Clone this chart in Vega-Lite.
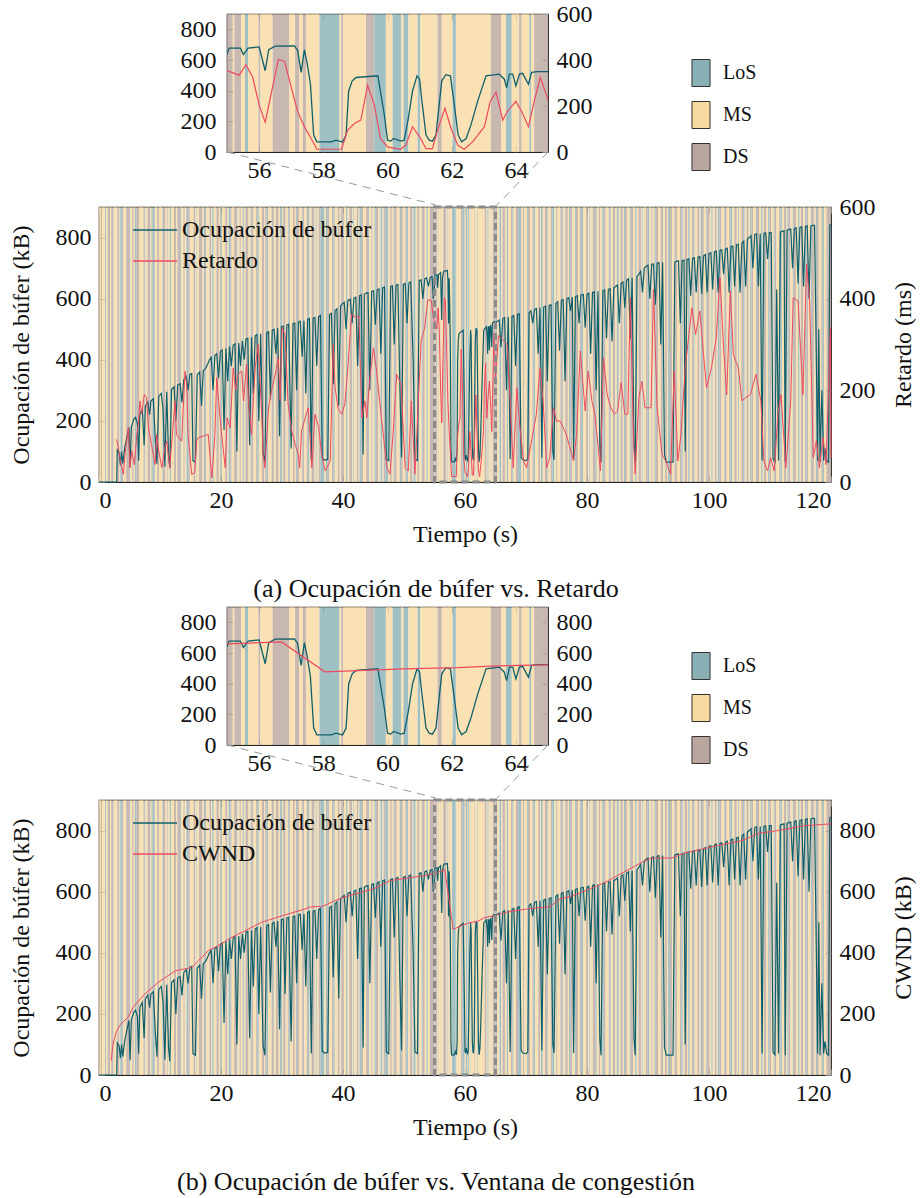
{
"$schema": "https://vega.github.io/schema/vega-lite/v6.json",
"background": "white",
"padding": {"left": 8, "top": 1, "right": 4, "bottom": 4},
"config": {
  "font": "Liberation Serif",
  "view": {"stroke": "#222", "strokeWidth": 1.2},
  "style": {"guide-label": {"font": "Liberation Serif"}, "guide-title": {"font": "Liberation Serif"}, "group-title": {"font": "Liberation Serif"}},
  "axis": {"labelFont": "Liberation Serif", "titleFont": "Liberation Serif", "labelFontSize": 24, "titleFontSize": 24, "titleFontWeight": "normal", "labelColor": "#111", "titleColor": "#111", "tickColor": "#888", "tickSize": -6, "tickWidth": 1, "domain": false, "grid": false},
  "legend": {"labelFont": "Liberation Serif", "labelColor": "#111", "labelLimit": 400},
  "title": {"font": "Liberation Serif", "fontWeight": "normal", "color": "#111"}
},
"datasets": {
"stripes": [
{"a":0,"b":0.3,"s":"MS"},{"a":0.3,"b":0.5,"s":"DS"},{"a":0.5,"b":1.0,"s":"MS"},{"a":1.0,"b":1.15,"s":"LoS"},{"a":1.15,"b":1.4,"s":"MS"},{"a":1.4,"b":1.8,"s":"DS"},{"a":1.8,"b":2.0,"s":"MS"},{"a":2.0,"b":2.3,"s":"DS"},{"a":2.3,"b":2.4,"s":"LoS"},{"a":2.4,"b":3.0,"s":"MS"},
{"a":3.0,"b":3.35,"s":"DS"},{"a":3.35,"b":3.5,"s":"MS"},{"a":3.5,"b":3.8,"s":"LoS"},{"a":3.8,"b":4.0,"s":"DS"},{"a":4.0,"b":4.45,"s":"MS"},{"a":4.45,"b":5.05,"s":"DS"},{"a":5.05,"b":5.15,"s":"LoS"},{"a":5.15,"b":5.45,"s":"MS"},{"a":5.45,"b":5.7,"s":"DS"},{"a":5.7,"b":5.9,"s":"MS"},{"a":5.9,"b":6.15,"s":"LoS"},{"a":6.15,"b":6.6,"s":"DS"},{"a":6.6,"b":7.3,"s":"MS"},{"a":7.3,"b":7.5,"s":"DS"},{"a":7.5,"b":7.6,"s":"LoS"},{"a":7.6,"b":7.95,"s":"MS"},{"a":7.95,"b":8.45,"s":"DS"},{"a":8.45,"b":8.6,"s":"MS"},{"a":8.6,"b":8.8,"s":"DS"},{"a":8.8,"b":9.15,"s":"LoS"},{"a":9.15,"b":9.55,"s":"MS"},{"a":9.55,"b":9.85,"s":"DS"},{"a":9.85,"b":10.4,"s":"MS"},{"a":10.4,"b":10.5,"s":"LoS"},{"a":10.5,"b":10.9,"s":"DS"},{"a":10.9,"b":11.2,"s":"MS"},{"a":11.2,"b":11.35,"s":"DS"},{"a":11.35,"b":11.6,"s":"MS"},{"a":11.6,"b":11.8,"s":"LoS"},{"a":11.8,"b":12.3,"s":"MS"},{"a":12.3,"b":12.65,"s":"DS"},{"a":12.65,"b":12.85,"s":"MS"},{"a":12.85,"b":13.3,"s":"DS"},{"a":13.3,"b":13.45,"s":"LoS"},{"a":13.45,"b":13.85,"s":"MS"},{"a":13.85,"b":14.05,"s":"DS"},{"a":14.05,"b":14.35,"s":"MS"},{"a":14.35,"b":14.65,"s":"LoS"},{"a":14.65,"b":14.9,"s":"DS"},{"a":14.9,"b":15.5,"s":"MS"},{"a":15.5,"b":15.8,"s":"DS"},{"a":15.8,"b":16.0,"s":"MS"},{"a":16.0,"b":16.1,"s":"LoS"},{"a":16.1,"b":16.4,"s":"MS"},{"a":16.4,"b":16.95,"s":"DS"},{"a":16.95,"b":17.2,"s":"MS"},{"a":17.2,"b":17.4,"s":"LoS"},{"a":17.4,"b":17.6,"s":"DS"},{"a":17.6,"b":18.1,"s":"MS"},{"a":18.1,"b":18.4,"s":"DS"},{"a":18.4,"b":18.55,"s":"MS"},{"a":18.55,"b":18.8,"s":"LoS"},{"a":18.8,"b":19.25,"s":"MS"},{"a":19.25,"b":19.65,"s":"DS"},{"a":19.65,"b":19.85,"s":"MS"},{"a":19.85,"b":20.0,"s":"DS"},{"a":20.0,"b":20.15,"s":"LoS"},{"a":20.15,"b":20.7,"s":"MS"},{"a":20.7,"b":21.05,"s":"DS"},{"a":21.05,"b":21.25,"s":"MS"},{"a":21.25,"b":21.55,"s":"LoS"},{"a":21.55,"b":21.75,"s":"DS"},{"a":21.75,"b":22.15,"s":"MS"},{"a":22.15,"b":22.6,"s":"DS"},{"a":22.6,"b":22.7,"s":"LoS"},{"a":22.7,"b":23.05,"s":"MS"},{"a":23.05,"b":23.25,"s":"DS"},{"a":23.25,"b":23.55,"s":"MS"},{"a":23.55,"b":23.75,"s":"LoS"},{"a":23.75,"b":24.0,"s":"MS"},{"a":24.0,"b":24.5,"s":"DS"},{"a":24.5,"b":24.85,"s":"MS"},{"a":24.85,"b":25.0,"s":"LoS"},{"a":25.0,"b":25.3,"s":"DS"},{"a":25.3,"b":25.75,"s":"MS"},{"a":25.75,"b":25.95,"s":"DS"},{"a":25.95,"b":26.2,"s":"LoS"},{"a":26.2,"b":26.7,"s":"MS"},{"a":26.7,"b":27.1,"s":"DS"},{"a":27.1,"b":27.25,"s":"MS"},{"a":27.25,"b":27.5,"s":"DS"},{"a":27.5,"b":27.7,"s":"LoS"},{"a":27.7,"b":28.3,"s":"MS"},{"a":28.3,"b":28.6,"s":"DS"},{"a":28.6,"b":28.7,"s":"LoS"},{"a":28.7,"b":29.0,"s":"MS"},{"a":29.0,"b":29.45,"s":"DS"},{"a":29.45,"b":29.7,"s":"MS"},{"a":29.7,"b":30.0,"s":"LoS"},{"a":30.0,"b":30.2,"s":"MS"},{"a":30.2,"b":30.6,"s":"DS"},{"a":30.6,"b":30.95,"s":"MS"},{"a":30.95,"b":31.1,"s":"DS"},{"a":31.1,"b":31.3,"s":"LoS"},{"a":31.3,"b":31.8,"s":"MS"},{"a":31.8,"b":32.1,"s":"DS"},{"a":32.1,"b":32.3,"s":"MS"},{"a":32.3,"b":32.45,"s":"LoS"},{"a":32.45,"b":32.8,"s":"DS"},{"a":32.8,"b":33.25,"s":"MS"},{"a":33.25,"b":33.35,"s":"LoS"},{"a":33.35,"b":33.65,"s":"DS"},{"a":33.65,"b":34.05,"s":"MS"},{"a":34.05,"b":34.25,"s":"DS"},{"a":34.25,"b":34.5,"s":"LoS"},{"a":34.5,"b":34.85,"s":"MS"},{"a":34.85,"b":35.35,"s":"DS"},{"a":35.35,"b":35.55,"s":"MS"},{"a":35.55,"b":35.7,"s":"LoS"},{"a":35.7,"b":36.0,"s":"MS"},{"a":36.0,"b":36.3,"s":"DS"},{"a":36.3,"b":36.9,"s":"LoS"},{"a":36.9,"b":37.2,"s":"MS"},{"a":37.2,"b":37.4,"s":"LoS"},{"a":37.4,"b":37.75,"s":"DS"},{"a":37.75,"b":38.2,"s":"MS"},{"a":38.2,"b":38.45,"s":"DS"},{"a":38.45,"b":38.65,"s":"LoS"},{"a":38.65,"b":39.15,"s":"MS"},{"a":39.15,"b":39.45,"s":"DS"},{"a":39.45,"b":39.65,"s":"MS"},{"a":39.65,"b":39.75,"s":"LoS"},{"a":39.75,"b":40.15,"s":"DS"},{"a":40.15,"b":40.5,"s":"MS"},{"a":40.5,"b":40.75,"s":"LoS"},{"a":40.75,"b":41.05,"s":"MS"},{"a":41.05,"b":41.5,"s":"DS"},{"a":41.5,"b":41.7,"s":"MS"},{"a":41.7,"b":41.85,"s":"LoS"},{"a":41.85,"b":42.25,"s":"MS"},{"a":42.25,"b":42.55,"s":"DS"},{"a":42.55,"b":42.7,"s":"MS"},{"a":42.7,"b":43.05,"s":"LoS"},{"a":43.05,"b":43.3,"s":"DS"},{"a":43.3,"b":43.8,"s":"MS"},{"a":43.8,"b":44.1,"s":"DS"},{"a":44.1,"b":44.25,"s":"LoS"},{"a":44.25,"b":44.65,"s":"MS"},{"a":44.65,"b":44.85,"s":"DS"},{"a":44.85,"b":45.15,"s":"MS"},{"a":45.15,"b":45.35,"s":"LoS"},{"a":45.35,"b":45.8,"s":"DS"},{"a":45.8,"b":46.15,"s":"MS"},{"a":46.15,"b":46.45,"s":"LoS"},{"a":46.45,"b":46.65,"s":"MS"},{"a":46.65,"b":46.95,"s":"DS"},{"a":46.95,"b":47.4,"s":"LoS"},{"a":47.4,"b":47.75,"s":"MS"},{"a":47.75,"b":48.0,"s":"DS"},{"a":48.0,"b":48.3,"s":"MS"},{"a":48.3,"b":48.45,"s":"LoS"},{"a":48.45,"b":48.8,"s":"DS"},{"a":48.8,"b":49.3,"s":"MS"},{"a":49.3,"b":49.5,"s":"LoS"},{"a":49.5,"b":49.8,"s":"DS"},{"a":49.8,"b":50.2,"s":"MS"},{"a":50.2,"b":50.4,"s":"DS"},{"a":50.4,"b":50.65,"s":"LoS"},{"a":50.65,"b":51.0,"s":"MS"},{"a":51.0,"b":51.4,"s":"DS"},{"a":51.4,"b":51.55,"s":"MS"},{"a":51.55,"b":51.9,"s":"LoS"},{"a":51.9,"b":52.2,"s":"MS"},{"a":52.2,"b":52.5,"s":"DS"},{"a":52.5,"b":52.9,"s":"MS"},{"a":52.9,"b":53.05,"s":"LoS"},{"a":53.05,"b":53.4,"s":"DS"},{"a":53.4,"b":53.7,"s":"MS"},{"a":53.7,"b":53.9,"s":"LoS"},{"a":53.9,"b":54.25,"s":"MS"},{"a":54.25,"b":55.0,"s":"DS"},
{"a":55.0,"b":55.18,"s":"DS"},{"a":55.18,"b":55.23,"s":"MS"},{"a":55.23,"b":55.44,"s":"DS"},{"a":55.44,"b":55.56,"s":"MS"},{"a":55.56,"b":55.66,"s":"LoS"},{"a":55.66,"b":55.98,"s":"MS"},{"a":55.98,"b":56.04,"s":"DS"},{"a":56.04,"b":56.42,"s":"MS"},{"a":56.42,"b":56.94,"s":"DS"},{"a":56.94,"b":57.12,"s":"MS"},{"a":57.12,"b":57.25,"s":"DS"},{"a":57.25,"b":57.36,"s":"MS"},{"a":57.36,"b":57.46,"s":"DS"},{"a":57.46,"b":57.88,"s":"MS"},{"a":57.88,"b":58.5,"s":"LoS"},{"a":58.5,"b":58.56,"s":"MS"},{"a":58.56,"b":58.62,"s":"DS"},{"a":58.62,"b":59.33,"s":"MS"},{"a":59.33,"b":59.59,"s":"DS"},{"a":59.59,"b":59.95,"s":"LoS"},{"a":59.95,"b":60.16,"s":"MS"},{"a":60.16,"b":60.42,"s":"LoS"},{"a":60.42,"b":60.5,"s":"MS"},{"a":60.5,"b":60.65,"s":"LoS"},{"a":60.65,"b":60.94,"s":"MS"},{"a":60.94,"b":61.02,"s":"LoS"},{"a":61.02,"b":61.56,"s":"MS"},{"a":61.56,"b":61.69,"s":"DS"},{"a":61.69,"b":62.03,"s":"MS"},{"a":62.03,"b":62.13,"s":"LoS"},{"a":62.13,"b":63.22,"s":"MS"},{"a":63.22,"b":63.54,"s":"DS"},{"a":63.54,"b":63.69,"s":"MS"},{"a":63.69,"b":63.87,"s":"LoS"},{"a":63.87,"b":64.1,"s":"MS"},{"a":64.1,"b":64.18,"s":"DS"},{"a":64.18,"b":64.42,"s":"MS"},{"a":64.42,"b":64.47,"s":"LoS"},{"a":64.47,"b":64.57,"s":"MS"},{"a":64.57,"b":65.0,"s":"DS"},
{"a":65.0,"b":65.3,"s":"DS"},{"a":65.3,"b":65.65,"s":"MS"},{"a":65.65,"b":65.95,"s":"LoS"},{"a":65.95,"b":66.15,"s":"MS"},{"a":66.15,"b":66.55,"s":"DS"},{"a":66.55,"b":66.85,"s":"MS"},{"a":66.85,"b":67.05,"s":"LoS"},{"a":67.05,"b":67.55,"s":"MS"},{"a":67.55,"b":67.8,"s":"DS"},{"a":67.8,"b":67.95,"s":"LoS"},{"a":67.95,"b":68.35,"s":"MS"},{"a":68.35,"b":68.7,"s":"DS"},{"a":68.7,"b":69.2,"s":"LoS"},{"a":69.2,"b":69.5,"s":"MS"},{"a":69.5,"b":69.7,"s":"DS"},{"a":69.7,"b":70.15,"s":"MS"},{"a":70.15,"b":70.3,"s":"LoS"},{"a":70.3,"b":70.65,"s":"DS"},{"a":70.65,"b":71.05,"s":"MS"},{"a":71.05,"b":71.25,"s":"DS"},{"a":71.25,"b":71.5,"s":"LoS"},{"a":71.5,"b":72.0,"s":"MS"},{"a":72.0,"b":72.3,"s":"DS"},{"a":72.3,"b":72.45,"s":"MS"},{"a":72.45,"b":72.75,"s":"LoS"},{"a":72.75,"b":73.1,"s":"MS"},{"a":73.1,"b":73.55,"s":"DS"},{"a":73.55,"b":73.65,"s":"LoS"},{"a":73.65,"b":74.05,"s":"MS"},{"a":74.05,"b":74.3,"s":"DS"},{"a":74.3,"b":74.65,"s":"LoS"},{"a":74.65,"b":74.95,"s":"MS"},{"a":74.95,"b":75.15,"s":"DS"},{"a":75.15,"b":75.65,"s":"MS"},{"a":75.65,"b":75.95,"s":"DS"},{"a":75.95,"b":76.1,"s":"LoS"},{"a":76.1,"b":76.45,"s":"MS"},{"a":76.45,"b":76.85,"s":"DS"},{"a":76.85,"b":77.05,"s":"MS"},{"a":77.05,"b":77.3,"s":"LoS"},{"a":77.3,"b":77.6,"s":"DS"},{"a":77.6,"b":78.05,"s":"MS"},{"a":78.05,"b":78.2,"s":"LoS"},{"a":78.2,"b":78.55,"s":"DS"},{"a":78.55,"b":78.85,"s":"MS"},{"a":78.85,"b":79.05,"s":"DS"},{"a":79.05,"b":79.35,"s":"LoS"},{"a":79.35,"b":79.85,"s":"MS"},{"a":79.85,"b":80.2,"s":"DS"},{"a":80.2,"b":80.4,"s":"MS"},{"a":80.4,"b":80.55,"s":"LoS"},{"a":80.55,"b":80.95,"s":"MS"},{"a":80.95,"b":81.4,"s":"DS"},{"a":81.4,"b":81.6,"s":"LoS"},{"a":81.6,"b":81.95,"s":"MS"},{"a":81.95,"b":82.2,"s":"DS"},{"a":82.2,"b":82.5,"s":"MS"},{"a":82.5,"b":82.75,"s":"LoS"},{"a":82.75,"b":83.05,"s":"DS"},{"a":83.05,"b":83.55,"s":"MS"},{"a":83.55,"b":83.75,"s":"DS"},{"a":83.75,"b":83.9,"s":"LoS"},{"a":83.9,"b":84.25,"s":"MS"},{"a":84.25,"b":84.65,"s":"DS"},{"a":84.65,"b":84.9,"s":"MS"},{"a":84.9,"b":85.2,"s":"LoS"},{"a":85.2,"b":85.5,"s":"MS"},{"a":85.5,"b":85.85,"s":"DS"},{"a":85.85,"b":86.05,"s":"MS"},{"a":86.05,"b":86.25,"s":"LoS"},{"a":86.25,"b":86.55,"s":"DS"},{"a":86.55,"b":87.0,"s":"MS"},{"a":87.0,"b":87.15,"s":"LoS"},{"a":87.15,"b":87.55,"s":"DS"},{"a":87.55,"b":87.9,"s":"MS"},{"a":87.9,"b":88.15,"s":"LoS"},{"a":88.15,"b":88.45,"s":"MS"},{"a":88.45,"b":88.9,"s":"DS"},{"a":88.9,"b":89.1,"s":"MS"},{"a":89.1,"b":89.25,"s":"LoS"},{"a":89.25,"b":89.65,"s":"MS"},{"a":89.65,"b":89.95,"s":"DS"},{"a":89.95,"b":90.2,"s":"LoS"},{"a":90.2,"b":90.55,"s":"MS"},{"a":90.55,"b":90.75,"s":"DS"},{"a":90.75,"b":91.05,"s":"MS"},{"a":91.05,"b":91.25,"s":"LoS"},{"a":91.25,"b":91.65,"s":"DS"},{"a":91.65,"b":92.1,"s":"MS"},{"a":92.1,"b":92.3,"s":"DS"},{"a":92.3,"b":92.45,"s":"LoS"},{"a":92.45,"b":92.8,"s":"MS"},{"a":92.8,"b":93.1,"s":"DS"},{"a":93.1,"b":93.3,"s":"MS"},{"a":93.3,"b":93.6,"s":"LoS"},{"a":93.6,"b":93.95,"s":"DS"},{"a":93.95,"b":94.35,"s":"MS"},{"a":94.35,"b":94.45,"s":"LoS"},{"a":94.45,"b":94.75,"s":"DS"},{"a":94.75,"b":95.25,"s":"MS"},{"a":95.25,"b":95.5,"s":"DS"},{"a":95.5,"b":95.7,"s":"LoS"},{"a":95.7,"b":96.0,"s":"MS"},{"a":96.0,"b":96.4,"s":"DS"},{"a":96.4,"b":96.6,"s":"MS"},{"a":96.6,"b":96.85,"s":"LoS"},{"a":96.85,"b":97.2,"s":"MS"},{"a":97.2,"b":97.5,"s":"DS"},{"a":97.5,"b":97.65,"s":"LoS"},{"a":97.65,"b":98.1,"s":"MS"},{"a":98.1,"b":98.45,"s":"DS"},{"a":98.45,"b":98.65,"s":"MS"},{"a":98.65,"b":98.85,"s":"LoS"},{"a":98.85,"b":99.15,"s":"DS"},{"a":99.15,"b":99.55,"s":"MS"},{"a":99.55,"b":99.7,"s":"LoS"},{"a":99.7,"b":100.1,"s":"DS"},{"a":100.1,"b":100.4,"s":"MS"},{"a":100.4,"b":100.6,"s":"LoS"},{"a":100.6,"b":100.95,"s":"MS"},{"a":100.95,"b":101.25,"s":"DS"},{"a":101.25,"b":101.45,"s":"MS"},{"a":101.45,"b":101.7,"s":"LoS"},{"a":101.7,"b":102.05,"s":"DS"},{"a":102.05,"b":102.5,"s":"MS"},{"a":102.5,"b":102.6,"s":"LoS"},{"a":102.6,"b":102.9,"s":"DS"},{"a":102.9,"b":103.3,"s":"MS"},{"a":103.3,"b":103.5,"s":"DS"},{"a":103.5,"b":103.8,"s":"LoS"},{"a":103.8,"b":104.15,"s":"MS"},{"a":104.15,"b":104.55,"s":"DS"},{"a":104.55,"b":104.75,"s":"MS"},{"a":104.75,"b":104.9,"s":"LoS"},{"a":104.9,"b":105.3,"s":"MS"},{"a":105.3,"b":105.6,"s":"DS"},{"a":105.6,"b":105.85,"s":"LoS"},{"a":105.85,"b":106.15,"s":"MS"},{"a":106.15,"b":106.5,"s":"DS"},{"a":106.5,"b":106.75,"s":"MS"},{"a":106.75,"b":106.95,"s":"LoS"},{"a":106.95,"b":107.25,"s":"DS"},{"a":107.25,"b":107.7,"s":"MS"},{"a":107.7,"b":107.85,"s":"LoS"},{"a":107.85,"b":108.2,"s":"DS"},{"a":108.2,"b":108.55,"s":"MS"},{"a":108.55,"b":108.8,"s":"LoS"},{"a":108.8,"b":109.0,"s":"MS"},{"a":109.0,"b":109.4,"s":"DS"},{"a":109.4,"b":109.7,"s":"MS"},{"a":109.7,"b":109.9,"s":"LoS"},{"a":109.9,"b":110.2,"s":"DS"},{"a":110.2,"b":110.6,"s":"MS"},{"a":110.6,"b":110.75,"s":"LoS"},{"a":110.75,"b":111.05,"s":"DS"},{"a":111.05,"b":111.5,"s":"MS"},{"a":111.5,"b":111.7,"s":"DS"},{"a":111.7,"b":111.95,"s":"LoS"},{"a":111.95,"b":112.3,"s":"MS"},{"a":112.3,"b":112.65,"s":"DS"},{"a":112.65,"b":112.85,"s":"MS"},{"a":112.85,"b":113.05,"s":"LoS"},{"a":113.05,"b":113.35,"s":"DS"},{"a":113.35,"b":113.75,"s":"MS"},{"a":113.75,"b":113.9,"s":"LoS"},{"a":113.9,"b":114.25,"s":"DS"},{"a":114.25,"b":114.6,"s":"MS"},{"a":114.6,"b":114.85,"s":"LoS"},{"a":114.85,"b":115.05,"s":"MS"},{"a":115.05,"b":115.45,"s":"DS"},{"a":115.45,"b":115.75,"s":"MS"},{"a":115.75,"b":115.95,"s":"LoS"},{"a":115.95,"b":116.25,"s":"DS"},{"a":116.25,"b":116.7,"s":"MS"},{"a":116.7,"b":116.85,"s":"LoS"},{"a":116.85,"b":117.2,"s":"DS"},{"a":117.2,"b":117.5,"s":"MS"},{"a":117.5,"b":117.7,"s":"LoS"},{"a":117.7,"b":118.0,"s":"DS"},{"a":118.0,"b":118.4,"s":"MS"},{"a":118.4,"b":118.65,"s":"DS"},{"a":118.65,"b":118.85,"s":"LoS"},{"a":118.85,"b":119.25,"s":"MS"},{"a":119.25,"b":120.0,"s":"DS"}
],
"buf": [
{"t":0,"v":0},{"t":2.9,"v":0},{"t":3.0,"v":105},{"t":3.3,"v":95},{"t":3.5,"v":55},{"t":3.7,"v":100},{"t":3.9,"v":60},{"t":4.2,"v":110},{"t":4.6,"v":150},{"t":4.9,"v":178},{"t":5.1,"v":48},{"t":5.3,"v":180},{"t":5.7,"v":205},{"t":6.0,"v":212},{"t":6.3,"v":190},{"t":6.5,"v":70},{"t":6.7,"v":222},{"t":7.1,"v":238},{"t":7.4,"v":120},{"t":7.6,"v":248},{"t":8.0,"v":262},{"t":8.3,"v":220},{"t":8.5,"v":265},{"t":8.9,"v":272},{"t":9.2,"v":150},{"t":9.5,"v":60},{"t":9.8,"v":280},{"t":10.2,"v":290},{"t":10.5,"v":240},{"t":10.8,"v":50},{"t":11.1,"v":295},{"t":11.4,"v":90},{"t":11.6,"v":45},{"t":11.9,"v":303},{"t":12.3,"v":312},{"t":12.6,"v":200},{"t":12.9,"v":318},{"t":13.3,"v":322},{"t":13.6,"v":260},{"t":13.9,"v":335},{"t":14.3,"v":345},{"t":14.6,"v":300},{"t":14.9,"v":352},{"t":15.2,"v":355},{"t":15.4,"v":70},{"t":15.8,"v":65},{"t":16.1,"v":350},{"t":16.5,"v":360},{"t":16.8,"v":250},{"t":17.1,"v":365},{"t":17.5,"v":372},{"t":17.8,"v":385},{"t":18.1,"v":400},{"t":18.4,"v":408},{"t":18.7,"v":300},{"t":19.0,"v":415},{"t":19.3,"v":420},{"t":19.6,"v":340},{"t":19.9,"v":428},{"t":20.2,"v":432},{"t":20.5,"v":170},{"t":20.8,"v":438},{"t":21.1,"v":330},{"t":21.4,"v":444},{"t":21.7,"v":380},{"t":22.0,"v":448},{"t":22.3,"v":452},{"t":22.6,"v":100},{"t":22.9,"v":455},{"t":23.2,"v":380},{"t":23.5,"v":462},{"t":23.8,"v":400},{"t":24.1,"v":468},{"t":24.4,"v":470},{"t":24.7,"v":120},{"t":25.0,"v":474},{"t":25.3,"v":290},{"t":25.6,"v":478},{"t":25.9,"v":482},{"t":26.2,"v":200},{"t":26.5,"v":485},{"t":26.9,"v":95},{"t":27.2,"v":65},{"t":27.5,"v":488},{"t":27.8,"v":492},{"t":28.1,"v":270},{"t":28.4,"v":496},{"t":28.7,"v":500},{"t":29.0,"v":420},{"t":29.3,"v":504},{"t":29.6,"v":150},{"t":29.9,"v":508},{"t":30.2,"v":510},{"t":30.5,"v":265},{"t":30.8,"v":514},{"t":31.1,"v":516},{"t":31.5,"v":110},{"t":31.8,"v":518},{"t":32.1,"v":520},{"t":32.4,"v":300},{"t":32.7,"v":523},{"t":33.0,"v":526},{"t":33.3,"v":410},{"t":33.6,"v":528},{"t":33.9,"v":290},{"t":34.2,"v":532},{"t":34.5,"v":535},{"t":34.8,"v":70},{"t":35.1,"v":536},{"t":35.4,"v":538},{"t":35.7,"v":380},{"t":36.0,"v":541},{"t":36.3,"v":545},{"t":36.6,"v":78},{"t":37.0,"v":72},{"t":37.5,"v":74},{"t":37.8,"v":548},{"t":38.1,"v":552},{"t":38.4,"v":320},{"t":38.7,"v":560},{"t":39.0,"v":567},{"t":39.3,"v":250},{"t":39.6,"v":576},{"t":39.9,"v":583},{"t":40.2,"v":588},{"t":40.5,"v":500},{"t":40.8,"v":594},{"t":41.2,"v":598},{"t":41.5,"v":520},{"t":41.8,"v":602},{"t":42.1,"v":605},{"t":42.4,"v":380},{"t":42.7,"v":610},{"t":43.0,"v":612},{"t":43.3,"v":90},{"t":43.5,"v":615},{"t":43.8,"v":618},{"t":44.1,"v":620},{"t":44.4,"v":300},{"t":44.7,"v":624},{"t":45.0,"v":626},{"t":45.3,"v":515},{"t":45.6,"v":628},{"t":45.9,"v":632},{"t":46.2,"v":420},{"t":46.5,"v":635},{"t":46.8,"v":638},{"t":47.1,"v":75},{"t":47.5,"v":70},{"t":47.8,"v":640},{"t":48.1,"v":642},{"t":48.4,"v":450},{"t":48.7,"v":644},{"t":49.0,"v":646},{"t":49.3,"v":330},{"t":49.6,"v":80},{"t":49.9,"v":647},{"t":50.2,"v":650},{"t":50.5,"v":520},{"t":50.8,"v":652},{"t":51.1,"v":655},{"t":51.5,"v":400},{"t":51.8,"v":75},{"t":52.2,"v":70},{"t":52.5,"v":660},{"t":52.8,"v":662},{"t":53.1,"v":600},{"t":53.4,"v":665},{"t":53.7,"v":668},{"t":54.0,"v":640},{"t":54.3,"v":670},{"t":54.6,"v":672},{"t":54.8,"v":600},
{"t":55.0,"v":641},{"t":55.07,"v":678},{"t":55.42,"v":678},{"t":55.51,"v":636},{"t":55.66,"v":678},{"t":56.0,"v":685},{"t":56.19,"v":530},{"t":56.3,"v":667},{"t":56.5,"v":690},{"t":57.1,"v":692},{"t":57.2,"v":663},{"t":57.31,"v":519},{"t":57.41,"v":667},{"t":57.5,"v":575},{"t":57.6,"v":442},{"t":57.7,"v":110},{"t":57.8,"v":66},{"t":58.24,"v":66},{"t":58.4,"v":77},{"t":58.5,"v":71},{"t":58.6,"v":66},{"t":58.71,"v":110},{"t":58.79,"v":398},{"t":58.9,"v":464},{"t":59.02,"v":486},{"t":59.7,"v":497},{"t":59.9,"v":243},{"t":60.0,"v":77},{"t":60.1,"v":71},{"t":60.19,"v":88},{"t":60.42,"v":71},{"t":60.52,"v":77},{"t":60.65,"v":221},{"t":60.78,"v":398},{"t":60.92,"v":497},{"t":61.0,"v":475},{"t":61.06,"v":354},{"t":61.2,"v":110},{"t":61.3,"v":77},{"t":61.4,"v":71},{"t":61.51,"v":110},{"t":61.61,"v":309},{"t":61.69,"v":464},{"t":61.82,"v":504},{"t":61.96,"v":497},{"t":62.08,"v":309},{"t":62.2,"v":110},{"t":62.31,"v":66},{"t":62.45,"v":88},{"t":62.6,"v":177},{"t":62.81,"v":332},{"t":63.07,"v":497},{"t":63.48,"v":508},{"t":63.64,"v":475},{"t":63.71,"v":420},{"t":63.8,"v":508},{"t":63.9,"v":508},{"t":64.0,"v":431},{"t":64.11,"v":508},{"t":64.21,"v":513},{"t":64.39,"v":442},{"t":64.49,"v":519},{"t":64.68,"v":524},{"t":65.0,"v":524},
{"t":65.3,"v":526},{"t":65.6,"v":530},{"t":65.9,"v":440},{"t":66.2,"v":535},{"t":66.5,"v":538},{"t":66.8,"v":300},{"t":67.1,"v":540},{"t":67.4,"v":75},{"t":67.7,"v":542},{"t":68.0,"v":545},{"t":68.3,"v":380},{"t":68.6,"v":548},{"t":68.9,"v":550},{"t":69.2,"v":80},{"t":69.5,"v":72},{"t":70.0,"v":70},{"t":70.3,"v":75},{"t":70.5,"v":555},{"t":70.8,"v":560},{"t":71.1,"v":520},{"t":71.4,"v":565},{"t":71.7,"v":568},{"t":72.0,"v":420},{"t":72.3,"v":570},{"t":72.6,"v":80},{"t":72.9,"v":572},{"t":73.2,"v":575},{"t":73.5,"v":330},{"t":73.8,"v":578},{"t":74.1,"v":580},{"t":74.4,"v":100},{"t":74.6,"v":72},{"t":74.9,"v":585},{"t":75.2,"v":590},{"t":75.5,"v":430},{"t":75.8,"v":594},{"t":76.1,"v":597},{"t":76.4,"v":330},{"t":76.7,"v":600},{"t":77.0,"v":603},{"t":77.3,"v":560},{"t":77.6,"v":605},{"t":77.8,"v":72},{"t":78.1,"v":607},{"t":78.4,"v":610},{"t":78.7,"v":520},{"t":79.0,"v":612},{"t":79.4,"v":614},{"t":79.7,"v":505},{"t":80.0,"v":615},{"t":80.3,"v":618},{"t":80.6,"v":420},{"t":80.9,"v":620},{"t":81.2,"v":622},{"t":81.5,"v":300},{"t":81.8,"v":624},{"t":82.1,"v":120},{"t":82.3,"v":65},{"t":82.6,"v":626},{"t":82.9,"v":628},{"t":83.2,"v":470},{"t":83.5,"v":630},{"t":83.8,"v":633},{"t":84.1,"v":460},{"t":84.4,"v":636},{"t":84.7,"v":640},{"t":85.0,"v":645},{"t":85.3,"v":520},{"t":85.6,"v":650},{"t":85.9,"v":655},{"t":86.2,"v":570},{"t":86.5,"v":660},{"t":86.8,"v":665},{"t":87.1,"v":470},{"t":87.4,"v":668},{"t":87.7,"v":120},{"t":87.9,"v":65},{"t":88.2,"v":672},{"t":88.5,"v":680},{"t":88.8,"v":690},{"t":89.1,"v":620},{"t":89.4,"v":700},{"t":89.7,"v":706},{"t":90.0,"v":710},{"t":90.3,"v":600},{"t":90.6,"v":713},{"t":90.9,"v":714},{"t":91.2,"v":580},{"t":91.5,"v":716},{"t":91.8,"v":718},{"t":92.1,"v":450},{"t":92.4,"v":718},{"t":92.7,"v":90},{"t":93.0,"v":65},{"t":93.5,"v":65},{"t":94.1,"v":65},{"t":94.4,"v":720},{"t":94.7,"v":722},{"t":95.0,"v":724},{"t":95.3,"v":520},{"t":95.6,"v":725},{"t":95.9,"v":726},{"t":96.1,"v":100},{"t":96.4,"v":728},{"t":96.7,"v":730},{"t":97.0,"v":610},{"t":97.3,"v":732},{"t":97.6,"v":734},{"t":97.9,"v":620},{"t":98.2,"v":736},{"t":98.5,"v":738},{"t":98.8,"v":615},{"t":99.1,"v":740},{"t":99.4,"v":744},{"t":99.7,"v":620},{"t":100.0,"v":748},{"t":100.3,"v":750},{"t":100.6,"v":630},{"t":100.9,"v":754},{"t":101.2,"v":756},{"t":101.5,"v":620},{"t":101.8,"v":758},{"t":102.1,"v":760},{"t":102.4,"v":680},{"t":102.7,"v":762},{"t":103.0,"v":765},{"t":103.3,"v":620},{"t":103.6,"v":770},{"t":103.9,"v":772},{"t":104.2,"v":640},{"t":104.5,"v":776},{"t":104.8,"v":778},{"t":105.1,"v":620},{"t":105.4,"v":782},{"t":105.7,"v":788},{"t":106.0,"v":640},{"t":106.3,"v":795},{"t":106.6,"v":800},{"t":106.9,"v":806},{"t":107.2,"v":700},{"t":107.5,"v":810},{"t":107.8,"v":812},{"t":108.1,"v":640},{"t":108.4,"v":813},{"t":108.7,"v":70},{"t":109.0,"v":814},{"t":109.3,"v":815},{"t":109.6,"v":730},{"t":109.9,"v":816},{"t":110.2,"v":816},{"t":110.5,"v":75},{"t":110.8,"v":66},{"t":111.1,"v":630},{"t":111.4,"v":70},{"t":111.7,"v":818},{"t":112.0,"v":820},{"t":112.3,"v":822},{"t":112.5,"v":65},{"t":112.8,"v":824},{"t":113.1,"v":826},{"t":113.4,"v":828},{"t":113.7,"v":700},{"t":114.0,"v":830},{"t":114.3,"v":832},{"t":114.6,"v":650},{"t":114.9,"v":833},{"t":115.2,"v":835},{"t":115.5,"v":640},{"t":115.8,"v":836},{"t":116.1,"v":838},{"t":116.4,"v":600},{"t":116.7,"v":838},{"t":117.0,"v":840},{"t":117.3,"v":840},{"t":117.6,"v":400},{"t":117.8,"v":70},{"t":118.0,"v":500},{"t":118.2,"v":65},{"t":118.5,"v":300},{"t":118.8,"v":70},{"t":119.0,"v":110},{"t":119.3,"v":70},{"t":119.6,"v":65},{"t":119.8,"v":840},{"t":120,"v":845}
],
"delay": [
{"t":2.9,"d":93},{"t":3.17,"d":75},{"t":3.6,"d":38},{"t":4.0,"d":17},{"t":4.26,"d":60},{"t":4.81,"d":118},{"t":5.08,"d":31},{"t":5.36,"d":68},{"t":5.8,"d":38},{"t":6.2,"d":104},{"t":6.45,"d":126},{"t":6.72,"d":177},{"t":7.0,"d":148},{"t":7.43,"d":191},{"t":7.8,"d":184},{"t":8.1,"d":118},{"t":8.6,"d":82},{"t":9.2,"d":38},{"t":9.46,"d":104},{"t":9.7,"d":75},{"t":10.3,"d":31},{"t":10.8,"d":75},{"t":11.1,"d":89},{"t":11.6,"d":31},{"t":12.46,"d":177},{"t":12.7,"d":104},{"t":13.55,"d":89},{"t":14.1,"d":242},{"t":14.4,"d":206},{"t":14.6,"d":104},{"t":15.2,"d":17},{"t":15.7,"d":20},{"t":16.0,"d":89},{"t":16.3,"d":97},{"t":17.1,"d":100},{"t":17.9,"d":104},{"t":18.5,"d":9},{"t":19.0,"d":104},{"t":19.3,"d":228},{"t":19.6,"d":177},{"t":20.1,"d":104},{"t":20.7,"d":31},{"t":21.0,"d":140},{"t":21.5,"d":118},{"t":22.0,"d":249},{"t":22.4,"d":200},{"t":22.8,"d":235},{"t":23.4,"d":242},{"t":23.7,"d":177},{"t":24.2,"d":257},{"t":24.5,"d":177},{"t":25.0,"d":104},{"t":25.6,"d":249},{"t":26.1,"d":300},{"t":26.7,"d":140},{"t":26.9,"d":60},{"t":27.2,"d":31},{"t":27.8,"d":162},{"t":28.3,"d":200},{"t":28.9,"d":235},{"t":29.4,"d":271},{"t":29.7,"d":177},{"t":30.0,"d":337},{"t":30.5,"d":322},{"t":31.0,"d":169},{"t":31.6,"d":111},{"t":32.2,"d":80},{"t":32.7,"d":60},{"t":32.9,"d":31},{"t":33.2,"d":111},{"t":33.8,"d":140},{"t":34.3,"d":162},{"t":34.9,"d":31},{"t":35.4,"d":148},{"t":36.0,"d":120},{"t":36.5,"d":60},{"t":37.1,"d":24},{"t":37.9,"d":46},{"t":38.4,"d":300},{"t":38.7,"d":206},{"t":39.2,"d":160},{"t":39.8,"d":148},{"t":40.3,"d":170},{"t":40.8,"d":250},{"t":41.4,"d":366},{"t":42.0,"d":360},{"t":42.6,"d":362},{"t":43.1,"d":140},{"t":43.6,"d":177},{"t":43.9,"d":140},{"t":44.4,"d":228},{"t":45.0,"d":293},{"t":45.5,"d":242},{"t":46.3,"d":140},{"t":47.2,"d":31},{"t":47.7,"d":17},{"t":48.2,"d":104},{"t":48.8,"d":235},{"t":49.5,"d":213},{"t":50.2,"d":31},{"t":50.7,"d":24},{"t":51.2,"d":177},{"t":51.8,"d":17},{"t":52.3,"d":162},{"t":52.8,"d":308},{"t":53.4,"d":337},{"t":53.9,"d":398},{"t":54.5,"d":395},{"t":54.8,"d":358},
{"t":55.0,"d":354},{"t":55.38,"d":334},{"t":55.59,"d":380},{"t":55.8,"d":325},{"t":56.0,"d":205},{"t":56.19,"d":129},{"t":56.37,"d":249},{"t":56.6,"d":402},{"t":56.79,"d":395},{"t":57.2,"d":176},{"t":57.41,"d":110},{"t":57.62,"d":59},{"t":57.8,"d":12},{"t":58.57,"d":12},{"t":58.76,"d":95},{"t":58.97,"d":124},{"t":59.17,"d":139},{"t":59.38,"d":290},{"t":59.59,"d":205},{"t":59.78,"d":59},{"t":60.0,"d":22},{"t":60.4,"d":12},{"t":60.57,"d":29},{"t":60.78,"d":110},{"t":61.0,"d":66},{"t":61.2,"d":15},{"t":61.4,"d":15},{"t":61.56,"d":95},{"t":61.79,"d":190},{"t":61.98,"d":102},{"t":62.19,"d":29},{"t":62.39,"d":12},{"t":62.65,"d":44},{"t":63.02,"d":110},{"t":63.2,"d":220},{"t":63.38,"d":260},{"t":63.59,"d":139},{"t":63.74,"d":178},{"t":64.0,"d":220},{"t":64.18,"d":176},{"t":64.39,"d":110},{"t":64.57,"d":220},{"t":64.76,"d":325},{"t":65.0,"d":227},
{"t":65.5,"d":320},{"t":66.2,"d":310},{"t":66.9,"d":300},{"t":67.4,"d":177},{"t":67.9,"d":31},{"t":68.5,"d":206},{"t":69.0,"d":118},{"t":69.6,"d":46},{"t":70.1,"d":31},{"t":70.9,"d":89},{"t":71.7,"d":148},{"t":72.3,"d":249},{"t":72.8,"d":177},{"t":73.4,"d":31},{"t":73.9,"d":53},{"t":74.5,"d":162},{"t":75.0,"d":133},{"t":75.6,"d":133},{"t":76.6,"d":104},{"t":77.8,"d":46},{"t":78.3,"d":104},{"t":78.9,"d":286},{"t":79.7,"d":155},{"t":80.2,"d":242},{"t":80.8,"d":177},{"t":81.3,"d":148},{"t":82.2,"d":24},{"t":82.7,"d":271},{"t":83.3,"d":191},{"t":83.9,"d":162},{"t":84.5,"d":148},{"t":85.0,"d":155},{"t":85.6,"d":217},{"t":86.2,"d":148},{"t":86.7,"d":148},{"t":87.1,"d":402},{"t":87.6,"d":104},{"t":87.9,"d":17},{"t":88.5,"d":184},{"t":89.0,"d":220},{"t":89.5,"d":162},{"t":90.5,"d":162},{"t":90.9,"d":420},{"t":91.5,"d":162},{"t":92.3,"d":60},{"t":92.9,"d":46},{"t":93.7,"d":17},{"t":94.3,"d":242},{"t":94.9,"d":46},{"t":95.4,"d":104},{"t":96.1,"d":249},{"t":97.2,"d":380},{"t":97.8,"d":322},{"t":98.5,"d":373},{"t":99.1,"d":278},{"t":99.6,"d":206},{"t":100.4,"d":249},{"t":101.2,"d":315},{"t":101.8,"d":446},{"t":102.4,"d":293},{"t":102.9,"d":190},{"t":103.5,"d":417},{"t":104.0,"d":278},{"t":104.8,"d":249},{"t":105.4,"d":177},{"t":106.0,"d":184},{"t":106.8,"d":191},{"t":107.7,"d":235},{"t":108.5,"d":177},{"t":109.0,"d":46},{"t":109.6,"d":24},{"t":110.1,"d":53},{"t":110.7,"d":24},{"t":111.3,"d":148},{"t":111.8,"d":191},{"t":112.6,"d":31},{"t":113.4,"d":177},{"t":113.8,"d":402},{"t":114.6,"d":395},{"t":115.4,"d":191},{"t":116.0,"d":475},{"t":116.5,"d":395},{"t":117.1,"d":53},{"t":117.6,"d":90},{"t":118.1,"d":31},{"t":118.7,"d":97},{"t":119.2,"d":38},{"t":119.9,"d":337},{"t":120.0,"d":53}
],
"cwnd": [
{"t":2.0,"c":47},{"t":2.3,"c":101},{"t":2.9,"c":145},{"t":3.5,"c":165},{"t":4.8,"c":190},{"t":5.6,"c":222},{"t":7.5,"c":265},{"t":9.7,"c":303},{"t":12.5,"c":341},{"t":15.2,"c":352},{"t":16.3,"c":374},{"t":17.9,"c":407},{"t":20.1,"c":429},{"t":21.2,"c":445},{"t":23.9,"c":472},{"t":26.7,"c":500},{"t":30.0,"c":521},{"t":33.2,"c":540},{"t":34.9,"c":551},{"t":36.5,"c":551},{"t":38.1,"c":565},{"t":39.8,"c":580},{"t":45.0,"c":609},{"t":47.7,"c":636},{"t":53.2,"c":652},{"t":55.0,"c":660},{"t":56.7,"c":672},{"t":58.05,"c":477},{"t":60.5,"c":497},{"t":62.2,"c":504},{"t":63.2,"c":515},{"t":65.0,"c":522},{"t":66.8,"c":533},{"t":70.1,"c":543},{"t":73.9,"c":551},{"t":75.6,"c":576},{"t":77.7,"c":587},{"t":80.5,"c":609},{"t":82.9,"c":630},{"t":86.2,"c":666},{"t":89.5,"c":701},{"t":90.6,"c":710},{"t":93.9,"c":710},{"t":96.1,"c":727},{"t":101.5,"c":751},{"t":105.4,"c":767},{"t":108.1,"c":791},{"t":111.4,"c":800},{"t":115.7,"c":816},{"t":120.0,"c":822}
],
"conn": [{"ta":55,"va":0,"tb":61.51,"vb":-345.7},{"ta":65,"va":0,"tb":63.41,"vb":-345.7}],
"zoom": [{"a":55,"b":65}],
"blank": [{"k":""}]
},
"spacing": 2,
"resolve": {"scale": {"x": "independent", "y": "independent", "fill": "independent", "stroke": "independent"}},
"vconcat": [
{
"spacing": -14,
"resolve": {"scale": {"x": "independent", "y": "independent", "fill": "independent", "stroke": "independent"}},
"vconcat": [
{
"spacing": 0,
"hconcat": [
{"width": 80, "height": 138, "view": {"stroke": null}, "data": {"name": "blank"}, "mark": {"type": "text"}, "encoding": {"text": {"field": "k"}}},
{
"width": 321, "height": 138,
"resolve": {"scale": {"y": "independent"}, "axis": {"x": "independent"}},
"layer": [
{"data": {"name": "stripes"}, "mark": {"type": "rect", "clip": true, "opacity": 0.8},
 "encoding": {
  "x": {"field": "a", "type": "quantitative", "scale": {"domain": [55, 65], "nice": false}, "axis": {"orient": "bottom", "values": [56, 58, 60, 62, 64], "title": null, "labelPadding": 12, "labelFont": "Liberation Serif"}},
  "x2": {"field": "b"},
  "fill": {"field": "s", "type": "nominal", "scale": {"domain": ["LoS", "MS", "DS"], "range": ["#89b0b5", "#f7daa0", "#b9a79e"]},
   "legend": {"orient": "none", "legendX": 588, "legendY": 45, "title": null, "symbolType": "M-0.67,-1L0.67,-1L0.67,1L-0.67,1Z", "symbolSize": 729, "symbolStrokeColor": "#333", "symbolStrokeWidth": 1, "symbolOpacity": 1, "labelFont": "Liberation Serif", "labelFontSize": 20, "labelOffset": 8, "rowPadding": 10, "padding": 0}}
 }},
{"data": {"name": "buf"}, "mark": {"type": "line", "clip": true, "stroke": "#0f5f6b", "strokeWidth": 1.3},
 "encoding": {
  "x": {"field": "t", "type": "quantitative", "scale": {"domain": [55, 65], "nice": false}, "axis": {"orient": "top", "labels": false, "title": null, "values": [56, 58, 60, 62, 64]}},
  "y": {"field": "v", "type": "quantitative", "scale": {"domain": [0, 900], "nice": false}, "axis": {"orient": "left", "values": [0, 200, 400, 600, 800], "title": null, "labelPadding": 17, "labelFont": "Liberation Serif"}}
 }},
{"data": {"name": "delay"}, "mark": {"type": "line", "clip": true, "stroke": "#ee4a5f", "strokeWidth": 1.2},
 "encoding": {
  "x": {"field": "t", "type": "quantitative", "scale": {"domain": [55, 65], "nice": false}, "axis": null},
  "y": {"field": "d", "type": "quantitative", "scale": {"domain": [0, 600], "nice": false}, "axis": {"orient": "right", "values": [0, 200, 400, 600], "title": null, "labelPadding": 14, "labelFont": "Liberation Serif"}}
 }},
{"data": {"name": "conn"}, "mark": {"type": "rule", "stroke": "#999", "strokeWidth": 1, "strokeDash": [8, 6]},
 "encoding": {
  "x": {"field": "ta", "type": "quantitative", "scale": {"domain": [55, 65], "nice": false}, "axis": null},
  "x2": {"field": "tb"},
  "y": {"field": "va", "type": "quantitative", "scale": {"domain": [0, 900], "nice": false}, "axis": null},
  "y2": {"field": "vb"}
 }}
]
}
]
},
{
"width": 732, "height": 275,
"title": {"text": "(a) Ocupación de búfer vs. Retardo", "orient": "bottom", "anchor": "middle", "frame": "group", "offset": 30, "dx": -29, "fontSize": 26, "font": "Liberation Serif"},
"resolve": {"scale": {"y": "independent"}, "axis": {"x": "independent"}},
"layer": [
{"data": {"name": "stripes"}, "mark": {"type": "rect", "opacity": 0.8},
 "encoding": {
  "x": {"field": "a", "type": "quantitative", "scale": {"domain": [0, 120], "nice": false}, "axis": {"orient": "bottom", "values": [0, 20, 40, 60, 80, 100, 120], "title": "Tiempo (s)", "labelPadding": 12, "titlePadding": 10, "labelFont": "Liberation Serif", "titleFont": "Liberation Serif"}},
  "x2": {"field": "b"},
  "fill": {"field": "s", "type": "nominal", "scale": {"domain": ["LoS", "MS", "DS"], "range": ["#89b0b5", "#f7daa0", "#b9a79e"]}, "legend": null}
 }},
{"data": {"name": "buf"}, "mark": {"type": "line", "strokeWidth": 1.2},
 "encoding": {
  "x": {"field": "t", "type": "quantitative", "scale": {"domain": [0, 120], "nice": false}, "axis": {"orient": "top", "labels": false, "title": null, "values": [0, 20, 40, 60, 80, 100, 120]}},
  "y": {"field": "v", "type": "quantitative", "scale": {"domain": [0, 900], "nice": false}, "axis": {"orient": "left", "values": [0, 200, 400, 600, 800], "title": "Ocupación de búfer (kB)", "labelPadding": 14, "titlePadding": 22, "labelFont": "Liberation Serif", "titleFont": "Liberation Serif"}},
  "stroke": {"datum": "Ocupación de búfer", "type": "nominal", "scale": {"domain": ["Ocupación de búfer", "Retardo"], "range": ["#0f5f6b", "#ee4a5f"]},
   "legend": {"orient": "none", "legendX": 44, "legendY": 11, "title": null, "symbolType": "M-2,0L2,0", "symbolSize": 484, "symbolStrokeWidth": 1.3, "labelFont": "Liberation Serif", "labelFontSize": 24, "labelOffset": 15, "labelLimit": 400, "rowPadding": 7, "padding": 0}}
 }},
{"data": {"name": "delay"}, "mark": {"type": "line", "strokeWidth": 1},
 "encoding": {
  "x": {"field": "t", "type": "quantitative", "scale": {"domain": [0, 120], "nice": false}, "axis": null},
  "y": {"field": "d", "type": "quantitative", "scale": {"domain": [0, 600], "nice": false}, "axis": {"orient": "right", "values": [0, 200, 400, 600], "title": "Retardo (ms)", "labelPadding": 14, "titlePadding": 16, "titleAngle": 270, "titleBaseline": "top", "labelFont": "Liberation Serif", "titleFont": "Liberation Serif"}},
  "stroke": {"datum": "Retardo", "type": "nominal"}
 }},
{"data": {"name": "zoom"}, "mark": {"type": "rect", "filled": false, "stroke": "#8a8a8a", "strokeWidth": 3, "strokeDash": [7, 4]},
 "encoding": {
  "x": {"field": "a", "type": "quantitative", "scale": {"domain": [0, 120], "nice": false}, "axis": null},
  "x2": {"field": "b"}
 }}
]
}
]
},
{
"spacing": -14,
"resolve": {"scale": {"x": "independent", "y": "independent", "fill": "independent", "stroke": "independent"}},
"vconcat": [
{
"spacing": 0,
"hconcat": [
{"width": 80, "height": 138, "view": {"stroke": null}, "data": {"name": "blank"}, "mark": {"type": "text"}, "encoding": {"text": {"field": "k"}}},
{
"width": 321, "height": 138,
"resolve": {"scale": {"y": "independent"}, "axis": {"x": "independent"}},
"layer": [
{"data": {"name": "stripes"}, "mark": {"type": "rect", "clip": true, "opacity": 0.8},
 "encoding": {
  "x": {"field": "a", "type": "quantitative", "scale": {"domain": [55, 65], "nice": false}, "axis": {"orient": "bottom", "values": [56, 58, 60, 62, 64], "title": null, "labelPadding": 12, "labelFont": "Liberation Serif"}},
  "x2": {"field": "b"},
  "fill": {"field": "s", "type": "nominal", "scale": {"domain": ["LoS", "MS", "DS"], "range": ["#89b0b5", "#f7daa0", "#b9a79e"]},
   "legend": {"orient": "none", "legendX": 588, "legendY": 45, "title": null, "symbolType": "M-0.67,-1L0.67,-1L0.67,1L-0.67,1Z", "symbolSize": 729, "symbolStrokeColor": "#333", "symbolStrokeWidth": 1, "symbolOpacity": 1, "labelFont": "Liberation Serif", "labelFontSize": 20, "labelOffset": 8, "rowPadding": 10, "padding": 0}}
 }},
{"data": {"name": "buf"}, "mark": {"type": "line", "clip": true, "stroke": "#0f5f6b", "strokeWidth": 1.3},
 "encoding": {
  "x": {"field": "t", "type": "quantitative", "scale": {"domain": [55, 65], "nice": false}, "axis": {"orient": "top", "labels": false, "title": null, "values": [56, 58, 60, 62, 64]}},
  "y": {"field": "v", "type": "quantitative", "scale": {"domain": [0, 900], "nice": false}, "axis": {"orient": "left", "values": [0, 200, 400, 600, 800], "title": null, "labelPadding": 17, "labelFont": "Liberation Serif"}}
 }},
{"data": {"name": "cwnd"}, "mark": {"type": "line", "clip": true, "stroke": "#ee4a5f", "strokeWidth": 1.2},
 "encoding": {
  "x": {"field": "t", "type": "quantitative", "scale": {"domain": [55, 65], "nice": false}, "axis": null},
  "y": {"field": "c", "type": "quantitative", "scale": {"domain": [0, 900], "nice": false}, "axis": {"orient": "right", "values": [0, 200, 400, 600, 800], "title": null, "labelPadding": 14, "labelFont": "Liberation Serif"}}
 }},
{"data": {"name": "conn"}, "mark": {"type": "rule", "stroke": "#999", "strokeWidth": 1, "strokeDash": [8, 6]},
 "encoding": {
  "x": {"field": "ta", "type": "quantitative", "scale": {"domain": [55, 65], "nice": false}, "axis": null},
  "x2": {"field": "tb"},
  "y": {"field": "va", "type": "quantitative", "scale": {"domain": [0, 900], "nice": false}, "axis": null},
  "y2": {"field": "vb"}
 }}
]
}
]
},
{
"width": 732, "height": 275,
"title": {"text": "(b) Ocupación de búfer vs. Ventana de congestión", "orient": "bottom", "anchor": "middle", "frame": "group", "offset": 30, "dx": -29, "fontSize": 26, "font": "Liberation Serif"},
"resolve": {"scale": {"y": "independent"}, "axis": {"x": "independent"}},
"layer": [
{"data": {"name": "stripes"}, "mark": {"type": "rect", "opacity": 0.8},
 "encoding": {
  "x": {"field": "a", "type": "quantitative", "scale": {"domain": [0, 120], "nice": false}, "axis": {"orient": "bottom", "values": [0, 20, 40, 60, 80, 100, 120], "title": "Tiempo (s)", "labelPadding": 12, "titlePadding": 10, "labelFont": "Liberation Serif", "titleFont": "Liberation Serif"}},
  "x2": {"field": "b"},
  "fill": {"field": "s", "type": "nominal", "scale": {"domain": ["LoS", "MS", "DS"], "range": ["#89b0b5", "#f7daa0", "#b9a79e"]}, "legend": null}
 }},
{"data": {"name": "buf"}, "mark": {"type": "line", "strokeWidth": 1.2},
 "encoding": {
  "x": {"field": "t", "type": "quantitative", "scale": {"domain": [0, 120], "nice": false}, "axis": {"orient": "top", "labels": false, "title": null, "values": [0, 20, 40, 60, 80, 100, 120]}},
  "y": {"field": "v", "type": "quantitative", "scale": {"domain": [0, 900], "nice": false}, "axis": {"orient": "left", "values": [0, 200, 400, 600, 800], "title": "Ocupación de búfer (kB)", "labelPadding": 14, "titlePadding": 22, "labelFont": "Liberation Serif", "titleFont": "Liberation Serif"}},
  "stroke": {"datum": "Ocupación de búfer", "type": "nominal", "scale": {"domain": ["Ocupación de búfer", "CWND"], "range": ["#0f5f6b", "#ee4a5f"]},
   "legend": {"orient": "none", "legendX": 44, "legendY": 11, "title": null, "symbolType": "M-2,0L2,0", "symbolSize": 484, "symbolStrokeWidth": 1.3, "labelFont": "Liberation Serif", "labelFontSize": 24, "labelOffset": 15, "labelLimit": 400, "rowPadding": 7, "padding": 0}}
 }},
{"data": {"name": "cwnd"}, "mark": {"type": "line", "strokeWidth": 1},
 "encoding": {
  "x": {"field": "t", "type": "quantitative", "scale": {"domain": [0, 120], "nice": false}, "axis": null},
  "y": {"field": "c", "type": "quantitative", "scale": {"domain": [0, 900], "nice": false}, "axis": {"orient": "right", "values": [0, 200, 400, 600, 800], "title": "CWND (kB)", "labelPadding": 14, "titlePadding": 16, "titleAngle": 270, "titleBaseline": "top", "labelFont": "Liberation Serif", "titleFont": "Liberation Serif"}},
  "stroke": {"datum": "CWND", "type": "nominal"}
 }},
{"data": {"name": "zoom"}, "mark": {"type": "rect", "filled": false, "stroke": "#8a8a8a", "strokeWidth": 3, "strokeDash": [7, 4]},
 "encoding": {
  "x": {"field": "a", "type": "quantitative", "scale": {"domain": [0, 120], "nice": false}, "axis": null},
  "x2": {"field": "b"}
 }}
]
}
]
}
]
}
